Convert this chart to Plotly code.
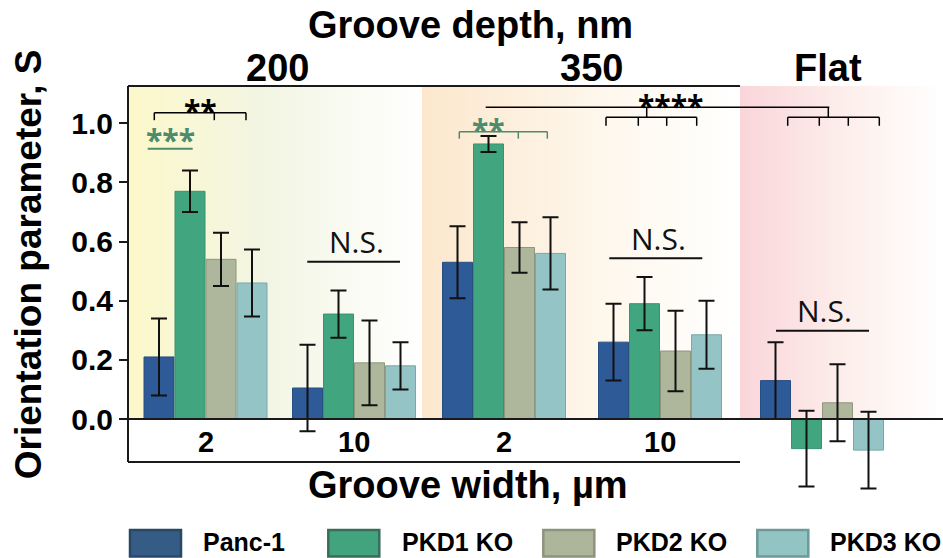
import plotly.graph_objects as go

# ---------------- data ----------------
series = ["Panc-1", "PKD1 KO", "PKD2 KO", "PKD3 KO"]
conditions = ["200 nm / 2 µm", "200 nm / 10 µm", "350 nm / 2 µm", "350 nm / 10 µm", "Flat"]
width_labels = ["2", "10", "2", "10"]
depth_labels = ["200", "350", "Flat"]

panc1 = [0.21, 0.105, 0.53, 0.26, 0.13]
panc1_err = [0.13, 0.146, 0.122, 0.13, 0.13]
pkd1 = [0.77, 0.355, 0.93, 0.39, -0.10]
pkd1_err = [0.07, 0.08, 0.027, 0.09, 0.128]
pkd2 = [0.54, 0.19, 0.58, 0.23, 0.055]
pkd2_err = [0.09, 0.143, 0.085, 0.136, 0.13]
pkd3 = [0.46, 0.18, 0.56, 0.285, -0.105]
pkd3_err = [0.113, 0.08, 0.122, 0.115, 0.13]

values = [panc1, pkd1, pkd2, pkd3]
errors = [panc1_err, pkd1_err, pkd2_err, pkd3_err]

# ---------------- styles / layout ----------------
W, H = 943, 558
L, T, R, B = 128, 86, 943, 493
PW, PH = R - L, B - T
YMIN, YMAX = -0.25, 1.126
GROUP_X = [77.5, 226, 376, 532, 694]          # group centres (plot px units)
BAR_W, BAR_PITCH = 30, 31
REGIONS = [(0, 294), (294, 612), (612, 815)]  # background bands

bar_fill = ["#2E5A97", "#41A680", "#AEB69B", "#94C4C5"]
bar_line = ["#284F82", "#3A9270", "#8F967E", "#79A8A9"]
leg_fill = ["#355C85", "#42A47E", "#ADB59A", "#93C4C4"]
leg_line = ["#2A4866", "#3B6C5A", "#8D937D", "#6D9999"]
bg_scales = [
    [[0, "#FDF8CA"], [0.45, "#F2F5E2"], [1, "#FFFFFF"]],
    [[0, "#FCE7CD"], [0.6, "#FEF8EE"], [1, "#FFFFFF"]],
    [[0, "#FAD5DA"], [0.55, "#FDF0EC"], [1, "#FFFFFF"]],
]
GREEN = "#4E8A6C"
BOLD = "Liberation Sans"
THIN = "Open Sans"


def PX(x):
    return (x - L) / PW


def PY(y):
    return (B - y) / PH


fig = go.Figure()

# background bands (base subplot, drawn beneath the overlaying bar subplot)
for (x0, x1), cs in zip(REGIONS, bg_scales):
    fig.add_trace(go.Scatter(
        x=[x0, x1, x1, x0, x0], y=[0, 0, YMAX, YMAX, 0],
        mode="none", fill="toself",
        fillgradient=dict(type="horizontal", colorscale=cs),
        hoverinfo="skip", showlegend=False, xaxis="x", yaxis="y"))

# bars
for i, name in enumerate(series):
    fig.add_trace(go.Bar(
        name=name, x=GROUP_X, y=values[i],
        customdata=conditions,
        width=BAR_W, offset=-2 * BAR_PITCH + 0.5 + i * BAR_PITCH,
        marker=dict(color=bar_fill[i], line=dict(color=bar_line[i], width=1)),
        error_y=dict(type="data", array=errors[i], visible=True,
                     color="#111111", thickness=2, width=8),
        showlegend=False, xaxis="x2", yaxis="y2"))

shapes = []
# zero line
shapes.append(dict(type="line", xref="paper", yref="y", x0=0, x1=1, y0=0, y1=0,
                   line=dict(color="#1A1A1A", width=2), layer="above"))
# frame: left axis, top and bottom of grooved part
ybot = PY(462)
shapes.append(dict(type="line", xref="paper", yref="paper", x0=0, x1=0, y0=ybot, y1=1,
                   line=dict(color="#1A1A1A", width=2), layer="above"))
shapes.append(dict(type="line", xref="paper", yref="paper", x0=0, x1=REGIONS[1][1] / PW,
                   y0=1, y1=1, line=dict(color="#1A1A1A", width=2), layer="above"))
shapes.append(dict(type="line", xref="paper", yref="paper", x0=0, x1=REGIONS[1][1] / PW,
                   y0=ybot, y1=ybot, line=dict(color="#1A1A1A", width=2), layer="above"))


def seg(x0, y0, x1, y1, color="#000000", width=1.5):
    shapes.append(dict(type="line", xref="paper", yref="paper",
                       x0=PX(x0), x1=PX(x1), y0=PY(y0), y1=PY(y1),
                       line=dict(color=color, width=width), layer="above"))


def bracket(xs, y, drop, color="#000000"):
    seg(xs[0], y, xs[-1], y, color)
    for xx in xs:
        seg(xx, y, xx, y + drop, color)


# significance brackets
seg(147.7, 148.7, 192.7, 148.7, GREEN, 2)                     # ***
bracket([154.3, 214.3, 246], 112.7, 7.5)                      # **
bracket([459.3, 518.3, 547.3], 131.7, 7, GREEN)               # ** green
seg(485.7, 107.3, 829.3, 107.3)                               # ****
seg(646.7, 107.3, 646.7, 117.3)
seg(828.3, 107.3, 828.3, 117.3)
bracket([606, 638.3, 666.7, 696.7], 117.3, 8.5)
bracket([787.7, 819.3, 848.3, 879.3], 117.3, 8.5)
# N.S. lines
seg(307.3, 261.7, 400, 261.7, "#111111", 2)
seg(609.3, 258.3, 702.3, 258.3, "#111111", 2)
seg(776, 330.7, 869, 330.7, "#111111", 2)

# legend swatches
leg_box_x = [130, 328.3, 543.3, 757.3]
leg_text_x = [202.7, 401.7, 616, 830]
for i in range(4):
    shapes.append(dict(type="rect", xref="paper", yref="paper",
                       x0=PX(leg_box_x[i]), x1=PX(leg_box_x[i] + 51),
                       y0=PY(556.5), y1=PY(530),
                       fillcolor=leg_fill[i], line=dict(color=leg_line[i], width=2.5)))

ann = []


def text(x, y, s, size, color="#000000", family=BOLD, weight="bold", xanchor="center",
         angle=0):
    ann.append(dict(xref="paper", yref="paper", x=PX(x), y=PY(y), text=s,
                    showarrow=False, xanchor=xanchor, yanchor="middle",
                    textangle=angle,
                    font=dict(family=family, size=size, color=color, weight=weight)))


text(470, 25, "Groove depth, nm", 38)
for lbl, cx in zip(depth_labels, [277.5, 591.7, 828]):
    text(cx, 67.5, lbl, 38)
text(468, 485, "Groove width, µm", 38)
text(28.3, 264, "Orientation parameter, S", 37, angle=-90)

# width tick labels under each grooved group
for lbl, gx in zip(width_labels, GROUP_X):
    ann.append(dict(xref="x", yref="y", x=gx, y=-0.078, text=lbl, showarrow=False,
                    xanchor="center", yanchor="middle",
                    font=dict(family=BOLD, size=29, color="#000000", weight="bold")))

# significance text
text(170.5, 139, "***", 30, GREEN, THIN)
text(200, 110.5, "**", 30, "#000000", THIN)
text(488.3, 129.5, "**", 30, GREEN, THIN)
text(670, 106, "****", 30, "#000000", THIN)
text(356, 241, "N.S.", 30, "#111111", THIN, "normal")
text(658, 238, "N.S.", 30, "#111111", THIN, "normal")
text(824, 310.5, "N.S.", 30, "#111111", THIN, "normal")

# legend labels
for i in range(4):
    text(leg_text_x[i] - 2, 542, series[i], 25, xanchor="left")

axis_common = dict(showgrid=False, zeroline=False)
fig.update_layout(
    width=W, height=H,
    margin=dict(l=L, r=W - R, t=T, b=H - B, pad=0),
    paper_bgcolor="white", plot_bgcolor="white",
    barmode="overlay",
    showlegend=False,
    shapes=shapes, annotations=ann,
    xaxis=dict(range=[0, PW], visible=False, **axis_common),
    xaxis2=dict(range=[0, PW], visible=False, overlaying="x", **axis_common),
    yaxis=dict(range=[YMIN, YMAX], showline=False,
               tickvals=[0, 0.2, 0.4, 0.6, 0.8, 1.0], tickformat=".1f",
               ticks="outside", ticklen=8, tickwidth=2, tickcolor="#1A1A1A",
               tickfont=dict(family=BOLD, size=30, color="#000000", weight="bold"),
               **axis_common),
    yaxis2=dict(range=[YMIN, YMAX], visible=False, overlaying="y", **axis_common),
)

fig.write_html("out.html")
